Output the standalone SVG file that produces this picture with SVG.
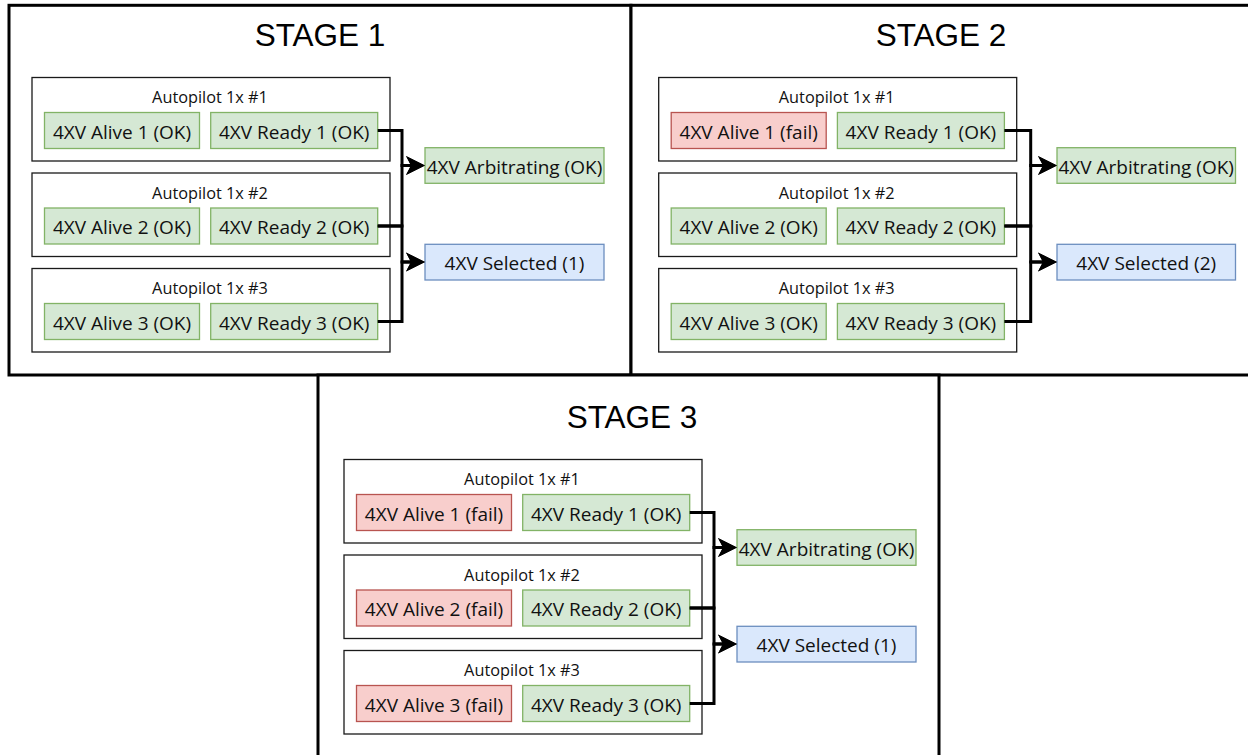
<svg xmlns="http://www.w3.org/2000/svg" width="1248" height="755" viewBox="0 0 1248 755">
  <style>
    .frame { fill: #ffffff; stroke: #000000; stroke-width: 3; }
    .title { font-family: "Liberation Sans", Arial, sans-serif; font-size: 31.5px; fill: #000000; text-anchor: middle; }
    .ap { fill: #ffffff; stroke: #1a1a1a; stroke-width: 1.3; }
    .ok { fill: #d5e8d4; stroke: #82b366; stroke-width: 1.3; }
    .fail { fill: #f8cecc; stroke: #b85450; stroke-width: 1.3; }
    .sel { fill: #dae8fc; stroke: #6c8ebf; stroke-width: 1.3; }
    .lbl { font-family: "Open Sans", "Noto Sans", sans-serif; font-size: 19px; fill: #111111; text-anchor: middle; }
    .aplbl { font-family: "Open Sans", "Noto Sans", sans-serif; font-size: 16.3px; fill: #111111; text-anchor: middle; }
    .edge { fill: none; stroke: #000000; stroke-width: 3; stroke-linejoin: miter; }
  </style>
  <defs>
    <marker id="arrow" markerUnits="userSpaceOnUse" markerWidth="20" markerHeight="20" viewBox="0 0 20 20" refX="6" refY="10" orient="auto">
      <path d="M0,0.5 L19,10 L0,19.5 L5,10 Z" fill="#000000"/>
    </marker>
  </defs>

  <!-- stage frames (drawn first so stage 3 sits over the shared border) -->
  <g id="stage1">
    <rect class="frame" x="9" y="5.3" width="622" height="369.7"/>
    <text class="title" x="320" y="45.5">STAGE 1</text>
  </g>
  <g id="stage2">
    <rect class="frame" x="631" y="5.3" width="626" height="369.7"/>
    <text class="title" x="941" y="45.5">STAGE 2</text>
  </g>
  <g id="stage3">
    <rect class="frame" x="318" y="375" width="621" height="395"/>
    <text class="title" x="632" y="427.5">STAGE 3</text>
  </g>

  <!-- ===== Stage 1 ===== -->
  <g id="s1-ap1">
    <rect class="ap" x="32" y="77.5" width="358" height="83.5"/>
    <text class="aplbl" x="210" y="103">Autopilot 1x #1</text>
  </g>
  <g id="s1-alive1"><rect class="ok" x="44.5" y="112.5" width="155" height="36"/><text class="lbl" x="122" y="138.5">4XV Alive 1 (OK)</text></g>
  <g id="s1-ready1"><rect class="ok" x="210.7" y="112.5" width="167" height="36"/><text class="lbl" x="294.2" y="138.5">4XV Ready 1 (OK)</text></g>

  <g id="s1-ap2">
    <rect class="ap" x="32" y="173" width="358" height="83.5"/>
    <text class="aplbl" x="210" y="198.5">Autopilot 1x #2</text>
  </g>
  <g id="s1-alive2"><rect class="ok" x="44.5" y="208" width="155" height="36"/><text class="lbl" x="122" y="234">4XV Alive 2 (OK)</text></g>
  <g id="s1-ready2"><rect class="ok" x="210.7" y="208" width="167" height="36"/><text class="lbl" x="294.2" y="234">4XV Ready 2 (OK)</text></g>

  <g id="s1-ap3">
    <rect class="ap" x="32" y="268.5" width="358" height="83.5"/>
    <text class="aplbl" x="210" y="294">Autopilot 1x #3</text>
  </g>
  <g id="s1-alive3"><rect class="ok" x="44.5" y="303.5" width="155" height="36"/><text class="lbl" x="122" y="329.5">4XV Alive 3 (OK)</text></g>
  <g id="s1-ready3"><rect class="ok" x="210.7" y="303.5" width="167" height="36"/><text class="lbl" x="294.2" y="329.5">4XV Ready 3 (OK)</text></g>

  <g id="s1-arbitrating"><rect class="ok" x="425" y="147.7" width="179" height="35.6"/><text class="lbl" x="514.5" y="173.5">4XV Arbitrating (OK)</text></g>
  <g id="s1-selected"><rect class="sel" x="425" y="244.3" width="179" height="35.7"/><text class="lbl" x="514.5" y="270">4XV Selected (1)</text></g>

  <!-- ===== Stage 2 ===== -->
  <g id="s2-ap1">
    <rect class="ap" x="658.7" y="77.5" width="358" height="83.5"/>
    <text class="aplbl" x="836.7" y="103">Autopilot 1x #1</text>
  </g>
  <g id="s2-alive1"><rect class="fail" x="671.2" y="112.5" width="155" height="36"/><text class="lbl" x="748.7" y="138.5">4XV Alive 1 (fail)</text></g>
  <g id="s2-ready1"><rect class="ok" x="837.4" y="112.5" width="167" height="36"/><text class="lbl" x="920.9" y="138.5">4XV Ready 1 (OK)</text></g>

  <g id="s2-ap2">
    <rect class="ap" x="658.7" y="173" width="358" height="83.5"/>
    <text class="aplbl" x="836.7" y="198.5">Autopilot 1x #2</text>
  </g>
  <g id="s2-alive2"><rect class="ok" x="671.2" y="208" width="155" height="36"/><text class="lbl" x="748.7" y="234">4XV Alive 2 (OK)</text></g>
  <g id="s2-ready2"><rect class="ok" x="837.4" y="208" width="167" height="36"/><text class="lbl" x="920.9" y="234">4XV Ready 2 (OK)</text></g>

  <g id="s2-ap3">
    <rect class="ap" x="658.7" y="268.5" width="358" height="83.5"/>
    <text class="aplbl" x="836.7" y="294">Autopilot 1x #3</text>
  </g>
  <g id="s2-alive3"><rect class="ok" x="671.2" y="303.5" width="155" height="36"/><text class="lbl" x="748.7" y="329.5">4XV Alive 3 (OK)</text></g>
  <g id="s2-ready3"><rect class="ok" x="837.4" y="303.5" width="167" height="36"/><text class="lbl" x="920.9" y="329.5">4XV Ready 3 (OK)</text></g>

  <g id="s2-arbitrating"><rect class="ok" x="1057" y="147.7" width="178.5" height="35.6"/><text class="lbl" x="1146.2" y="173.5">4XV Arbitrating (OK)</text></g>
  <g id="s2-selected"><rect class="sel" x="1057" y="244.3" width="178.5" height="35.7"/><text class="lbl" x="1146.2" y="270">4XV Selected (2)</text></g>

  <!-- ===== Stage 3 ===== -->
  <g id="s3-ap1">
    <rect class="ap" x="344" y="459.5" width="358" height="83.5"/>
    <text class="aplbl" x="522" y="485">Autopilot 1x #1</text>
  </g>
  <g id="s3-alive1"><rect class="fail" x="356.5" y="494.5" width="155" height="36"/><text class="lbl" x="434" y="520.5">4XV Alive 1 (fail)</text></g>
  <g id="s3-ready1"><rect class="ok" x="522.7" y="494.5" width="167" height="36"/><text class="lbl" x="606.2" y="520.5">4XV Ready 1 (OK)</text></g>

  <g id="s3-ap2">
    <rect class="ap" x="344" y="555" width="358" height="83.5"/>
    <text class="aplbl" x="522" y="580.5">Autopilot 1x #2</text>
  </g>
  <g id="s3-alive2"><rect class="fail" x="356.5" y="590" width="155" height="36"/><text class="lbl" x="434" y="616">4XV Alive 2 (fail)</text></g>
  <g id="s3-ready2"><rect class="ok" x="522.7" y="590" width="167" height="36"/><text class="lbl" x="606.2" y="616">4XV Ready 2 (OK)</text></g>

  <g id="s3-ap3">
    <rect class="ap" x="344" y="650.5" width="358" height="83.5"/>
    <text class="aplbl" x="522" y="676">Autopilot 1x #3</text>
  </g>
  <g id="s3-alive3"><rect class="fail" x="356.5" y="685.5" width="155" height="36"/><text class="lbl" x="434" y="711.5">4XV Alive 3 (fail)</text></g>
  <g id="s3-ready3"><rect class="ok" x="522.7" y="685.5" width="167" height="36"/><text class="lbl" x="606.2" y="711.5">4XV Ready 3 (OK)</text></g>

  <g id="s3-arbitrating"><rect class="ok" x="737" y="529.7" width="179" height="35.6"/><text class="lbl" x="826.5" y="555.5">4XV Arbitrating (OK)</text></g>
  <g id="s3-selected"><rect class="sel" x="737" y="626.3" width="179" height="35.7"/><text class="lbl" x="826.5" y="652">4XV Selected (1)</text></g>

  <!-- ===== Connectors: each Ready output feeds the arbitration and selection outputs ===== -->
  <g id="connectors">
    <!-- stage 1 -->
    <path class="edge" d="M377.7,130.5 H402 V165.5 H412" marker-end="url(#arrow)"/>
    <path class="edge" d="M377.7,226 H402 V165.5 H412" marker-end="url(#arrow)"/>
    <path class="edge" d="M377.7,226 H402 V262 H412" marker-end="url(#arrow)"/>
    <path class="edge" d="M377.7,321.5 H402 V262 H412" marker-end="url(#arrow)"/>
    <!-- stage 2 -->
    <path class="edge" d="M1004.4,130.5 H1030.7 V165.5 H1044" marker-end="url(#arrow)"/>
    <path class="edge" d="M1004.4,226 H1030.7 V165.5 H1044" marker-end="url(#arrow)"/>
    <path class="edge" d="M1004.4,226 H1030.7 V262 H1044" marker-end="url(#arrow)"/>
    <path class="edge" d="M1004.4,321.5 H1030.7 V262 H1044" marker-end="url(#arrow)"/>
    <!-- stage 3 -->
    <path class="edge" d="M689.7,512.5 H714 V547.5 H724" marker-end="url(#arrow)"/>
    <path class="edge" d="M689.7,608 H714 V547.5 H724" marker-end="url(#arrow)"/>
    <path class="edge" d="M689.7,608 H714 V644 H724" marker-end="url(#arrow)"/>
    <path class="edge" d="M689.7,703.5 H714 V644 H724" marker-end="url(#arrow)"/>
  </g>
</svg>
